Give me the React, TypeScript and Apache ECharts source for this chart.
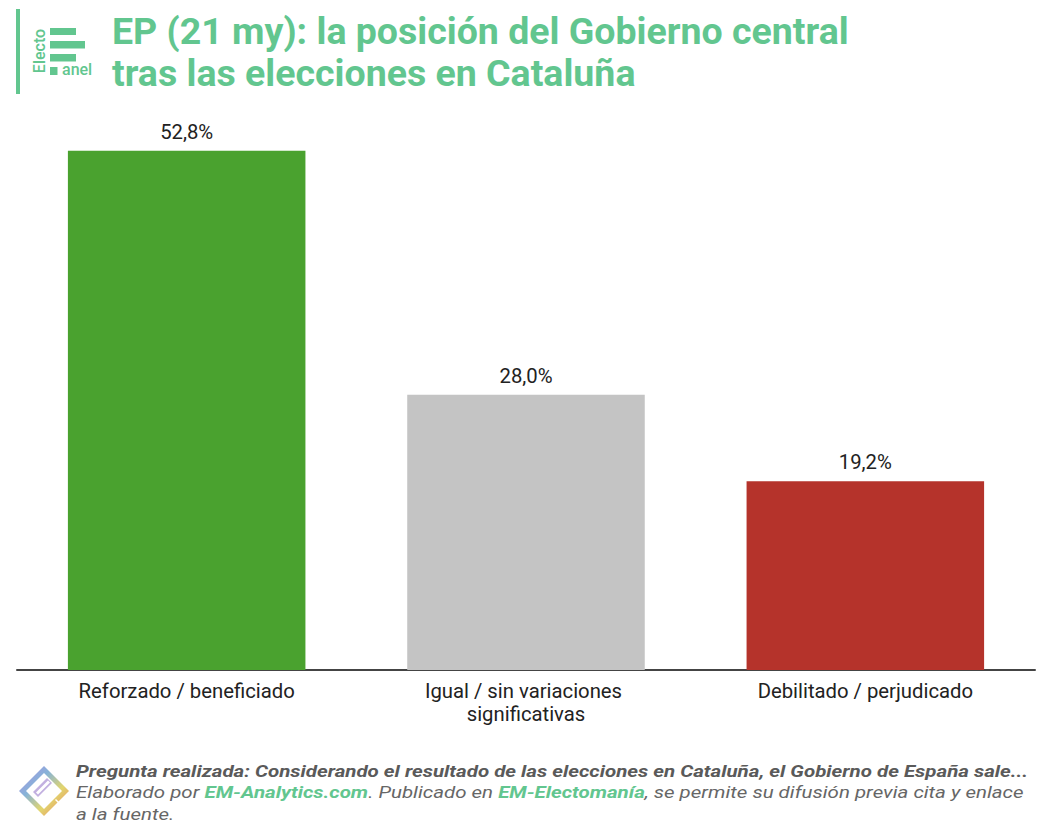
import React, { useEffect, useRef } from "react";
import * as echarts from "echarts";

const categories = [
  "Reforzado / beneficiado",
  "Igual / sin variaciones significativas",
  "Debilitado / perjudicado",
];
const values = [52.8, 28.0, 19.2];
const barColors = ["#4aa22f", "#c4c4c4", "#b5332b"];

const titleLines = [
  "EP (21 my): la posición del Gobierno central",
  "tras las elecciones en Cataluña",
];
const footerQuestion =
  "Pregunta realizada: Considerando el resultado de las elecciones en Cataluña, el Gobierno de España sale...";

const GREEN = "#62c68f";

export default function App() {
  const ref = useRef<HTMLDivElement>(null);
  useEffect(() => {
    document.body.style.margin = "0";
    const chart = echarts.init(ref.current!, null, { renderer: "svg" });
    const font = "Roboto, 'Noto Sans', sans-serif";
    const fScale = 0.84;
    const fLine = 21.5 / fScale;
    chart.setOption({
      animation: false,
      backgroundColor: "#ffffff",
      grid: { left: 17, right: 11, top: 80, bottom: 164, containLabel: false },
      xAxis: {
        type: "category",
        data: categories,
        axisTick: { show: false },
        axisLine: { show: true, lineStyle: { color: "#444", width: 2 } },
        axisLabel: {
          interval: 0,
          margin: 9,
          color: "#222",
          fontFamily: font,
          fontSize: 20.3,
          lineHeight: 23,
          width: 260,
          overflow: "break",
        },
      },
      yAxis: {
        type: "value",
        min: 0,
        max: 60,
        show: false,
        splitLine: { show: false },
      },
      series: [
        {
          type: "bar",
          barCategoryGap: "30%",
          data: values.map((v, i) => ({
            value: v,
            itemStyle: { color: barColors[i] },
          })),
          label: {
            show: true,
            position: "top",
            distance: 9,
            color: "#222",
            fontFamily: font,
            fontSize: 20.3,
            formatter: (p: any) => p.value.toFixed(1).replace(".", ",") + "%",
          },
        },
      ],
      graphic: [
        { type: "rect", shape: { x: 16, y: 9, width: 4, height: 85 }, style: { fill: GREEN } },
        { type: "rect", shape: { x: 50, y: 28, width: 26, height: 7 }, style: { fill: GREEN } },
        { type: "rect", shape: { x: 50, y: 41, width: 35, height: 7.5 }, style: { fill: GREEN } },
        { type: "rect", shape: { x: 50, y: 54, width: 26, height: 7.5 }, style: { fill: GREEN } },
        { type: "rect", shape: { x: 50, y: 67, width: 7.5, height: 8 }, style: { fill: GREEN } },
        {
          type: "text",
          x: 62,
          y: 77,
          style: {
            text: "anel",
            fill: GREEN,
            font: "500 16px Roboto, sans-serif",
            verticalAlign: "bottom",
          },
        },
        {
          type: "text",
          x: 39.5,
          y: 51,
          rotation: Math.PI / 2,
          style: {
            text: "Electo",
            fill: GREEN,
            font: "500 16px Roboto, sans-serif",
            align: "center",
            verticalAlign: "middle",
          },
        },
        {
          type: "text",
          x: 112,
          y: 10,
          style: {
            text: titleLines.join("\n"),
            fill: GREEN,
            font: "bold 37.5px Roboto, sans-serif",
            lineHeight: 42,
            verticalAlign: "top",
          },
        },
        // footer logo
        {
          type: "polygon",
          shape: { points: [[44, 766], [69, 791], [44, 816], [19, 791]] },
          style: {
            fill: {
              type: "linear",
              x: 0,
              y: 0,
              x2: 1,
              y2: 1,
              colorStops: [
                { offset: 0, color: "#b28ae6" },
                { offset: 0.35, color: "#86b3d8" },
                { offset: 0.65, color: "#e2d66e" },
                { offset: 1, color: "#ea7d62" },
              ],
            },
          },
        },
        {
          type: "polygon",
          shape: { points: [[44, 773], [62, 791], [44, 809], [26, 791]] },
          style: { fill: "#ffffff" },
        },
        {
          type: "polygon",
          shape: { points: [[47, 778], [52, 783], [38, 797], [33, 792]] },
          style: { fill: "#c2b0e0" },
        },
        {
          type: "polygon",
          shape: { points: [[48, 780.5], [50, 782.5], [38, 794.5], [36, 792.5]] },
          style: { fill: "#ffffff" },
        },
        {
          type: "polygon",
          shape: { points: [[56, 799], [63, 806], [62, 807], [55, 800]] },
          style: { fill: "#ffffff" },
        },
        {
          type: "text",
          x: 76,
          y: 760,
          scaleY: fScale,
          style: {
            text:
              "{b|" +
              footerQuestion +
              "}\n{i|Elaborado por }{g|EM-Analytics.com}{i|. Publicado en }{g|EM-Electomanía}{i|, se permite su difusión previa cita y enlace}\n{i|a la fuente.}",
            verticalAlign: "top",
            rich: {
              b: {
                fontFamily: font,
                fontSize: 20.5,
                fontWeight: "bold",
                fontStyle: "italic",
                fill: "#5a5a5a",
                lineHeight: fLine,
              },
              i: {
                fontFamily: font,
                fontSize: 20.5,
                fontStyle: "italic",
                fill: "#666666",
                lineHeight: fLine,
              },
              g: {
                fontFamily: font,
                fontSize: 20.5,
                fontWeight: "bold",
                fontStyle: "italic",
                fill: GREEN,
                lineHeight: fLine,
              },
            },
          },
        },
      ],
    });
    return () => chart.dispose();
  }, []);
  return <div ref={ref} style={{ width: 1046, height: 834 }} />;
}
